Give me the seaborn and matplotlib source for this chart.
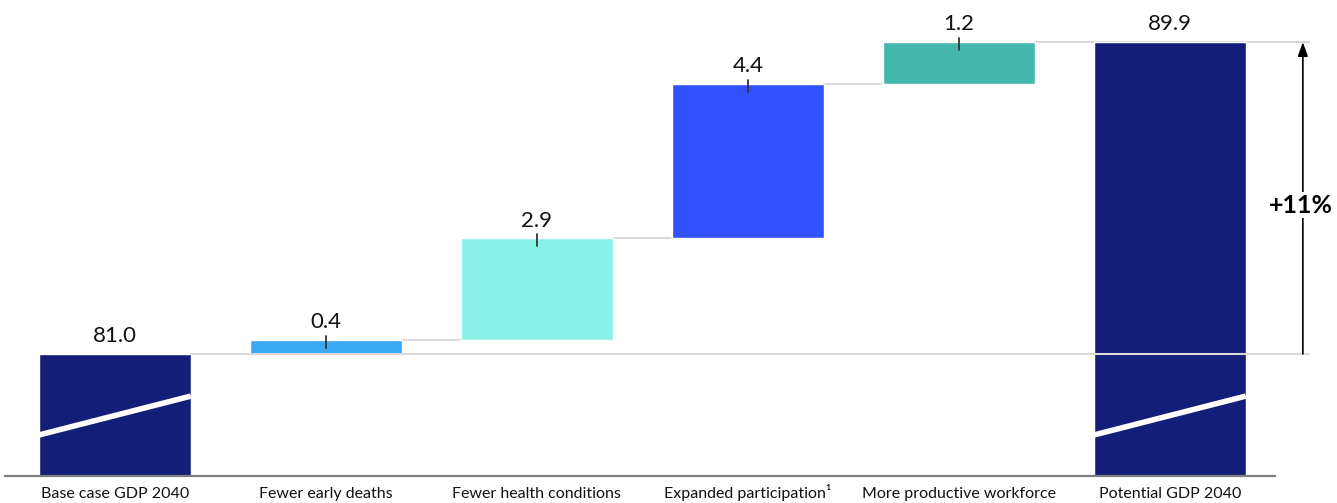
import numpy as np
import pandas as pd
import matplotlib
matplotlib.use("Agg")
import matplotlib.pyplot as plt
import seaborn as sns

# ---- data ----
categories = ["Base case GDP 2040", "Fewer early deaths", "Fewer health conditions",
              "Expanded participation\u00b9", "More productive workforce", "Potential GDP 2040"]
values = [81.0, 0.4, 2.9, 4.4, 1.2, 89.9]
kinds = ["total", "delta", "delta", "delta", "delta", "total"]
bar_colors = ["#131E78", "#3AA8F5", "#89F0E8", "#3352FF", "#44B8AD", "#131E78"]
change_label = "+11%"

# ---- derived waterfall geometry ----
tops, bottoms = [], []
running = 0.0
for v, k in zip(values, kinds):
    if k == "total":
        running = v
        tops.append(v)
        bottoms.append(0.0)
    else:
        bottoms.append(running)
        running = round(running + v, 6)
        tops.append(running)

df = pd.DataFrame({"cat": categories, "top": tops, "bottom": bottoms})

sns.set_theme(style="white")
plt.rcParams["font.family"] = ["Lato", "DejaVu Sans"]

fig = plt.figure(figsize=(13.37, 5.03), dpi=100)
ax = fig.add_axes([5 / 1337, 27 / 503, (1275 - 5) / 1337, 1 - 27 / 503])

W = 0.72
pal = dict(zip(categories, bar_colors))
sns.barplot(data=df, x="cat", y="top", hue="cat", palette=pal, dodge=False,
            legend=False, width=W, saturation=1, ax=ax, zorder=2)
# white mask below floating bars
mask = df.copy()
mask["bottom"] = [b if k == "delta" else 0.0 for b, k in zip(bottoms, kinds)]
sns.barplot(data=mask, x="cat", y="bottom", color="white", width=W + 0.01,
            saturation=1, ax=ax, zorder=3)

y_lo, y_hi = 77.52, 91.10
ax.set_ylim(y_lo, y_hi)
ax.set_xlim(-0.521, 5.498)

n = len(categories)
arrow_x = n - 1 + 0.63
grid_c = "#d9d9d9"

# connectors
base_val = values[0]
final_val = values[-1]
ax.plot([0 + W / 2, arrow_x + 0.03], [base_val, base_val], color=grid_c, lw=1.5,
        zorder=4, clip_on=False)
for i in range(1, n - 2):
    ax.plot([i + W / 2, i + 1 - W / 2], [tops[i], tops[i]], color=grid_c, lw=1.5, zorder=1)
ax.plot([n - 2 + W / 2, arrow_x + 0.03], [final_val, final_val], color=grid_c, lw=1.5,
        zorder=1, clip_on=False)

# axis-break marks in total bars
for i, k in enumerate(kinds):
    if k == "total":
        ax.plot([i - W / 2, i + W / 2], [y_lo + 1.17, y_lo + 2.28], color="white",
                lw=4.0, solid_capstyle="butt", zorder=5)

# small tick marks + value labels
for i, k in enumerate(kinds):
    if k == "delta":
        ax.plot([i, i], [tops[i] - 0.23, tops[i] + 0.11], color="#333333", lw=1.3, zorder=6)
    ax.text(i, tops[i] + 0.22, f"{values[i]:.1f}", ha="center", va="bottom",
            fontsize=16, color="#111111", zorder=7)

# change arrow
ax.annotate("", xy=(arrow_x, final_val), xytext=(arrow_x, base_val),
            arrowprops=dict(arrowstyle="-|>,head_length=0.7,head_width=0.25",
                            color="black", lw=1.2, shrinkA=0, shrinkB=0),
            annotation_clip=False, zorder=8)
ax.text(arrow_x - 0.162, (base_val + final_val) / 2 - 0.2, change_label, ha="left",
        va="center", fontsize=18, fontweight="bold", color="black", zorder=9,
        bbox=dict(facecolor="white", edgecolor="none", pad=1), clip_on=False)

# axes styling
for s in ["top", "right", "left"]:
    ax.spines[s].set_visible(False)
ax.spines["bottom"].set_color("#7f7f7f")
ax.spines["bottom"].set_linewidth(1.6)
ax.spines["bottom"].set_zorder(10)
ax.set_yticks([])
ax.set_xlabel("")
ax.set_ylabel("")
ax.tick_params(axis="x", length=0, pad=16, labelsize=11.5, labelcolor="#111111")
ax.set_xticks(range(n))
ax.set_xticklabels(categories)
for lab in ax.get_xticklabels():
    lab.set_verticalalignment("baseline")
ax.patch.set_alpha(0)

fig.savefig("out.png", dpi=100)
